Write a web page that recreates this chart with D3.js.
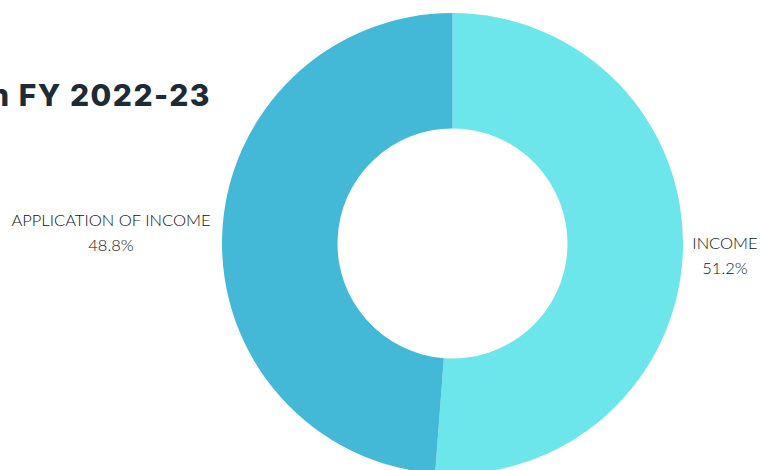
<!DOCTYPE html>
<html><head><meta charset="utf-8">
<script src="https://cdn.jsdelivr.net/npm/d3@7/dist/d3.min.js"></script>
<style>body{margin:0;background:#fff;overflow:hidden}svg{display:block}</style>
</head><body>
<svg id="c" width="761" height="470"></svg>
<script>
const categories = ["INCOME", "APPLICATION OF INCOME"];
const values = [51.2, 48.8];
const colors = ["#6ce6ea", "#43b8d7"];
const titleText = "in FY 2022-23";

const svg = d3.select("#c");
const cx = 452.5, cy = 243.5, rOuter = 230.5, rInner = 115;

const data = categories.map((c, i) => ({cat: c, val: values[i], color: colors[i]}));
const pie = d3.pie().value(d => d.val).sort(null);
const arc = d3.arc().innerRadius(rInner).outerRadius(rOuter);

const g = svg.append("g").attr("transform", `translate(${cx},${cy})`);
g.selectAll("path").data(pie(data)).join("path")
  .attr("d", arc).attr("fill", d => d.data.color);

svg.append("text").attr("x", 211).attr("y", 106).attr("text-anchor", "end")
  .attr("font-family", "Inter, 'Open Sans', sans-serif").attr("font-weight", 800)
  .attr("font-size", 30).attr("letter-spacing", 1.5).attr("fill", "#1d2b36").text(titleText);

const labelPos = [{x: 725, y: 249}, {x: 111, y: 226}];
pie(data).forEach((d, i) => {
  const t = svg.append("text").attr("text-anchor", "middle")
    .attr("font-family", "Lato, sans-serif").attr("font-weight", 300)
    .attr("font-size", 16.5).attr("fill", "#111");
  t.append("tspan").attr("x", labelPos[i].x).attr("y", labelPos[i].y).text(d.data.cat);
  t.append("tspan").attr("x", labelPos[i].x).attr("y", labelPos[i].y + 25).text(d.data.val.toFixed(1) + "%");
});
</script>
</body></html>
